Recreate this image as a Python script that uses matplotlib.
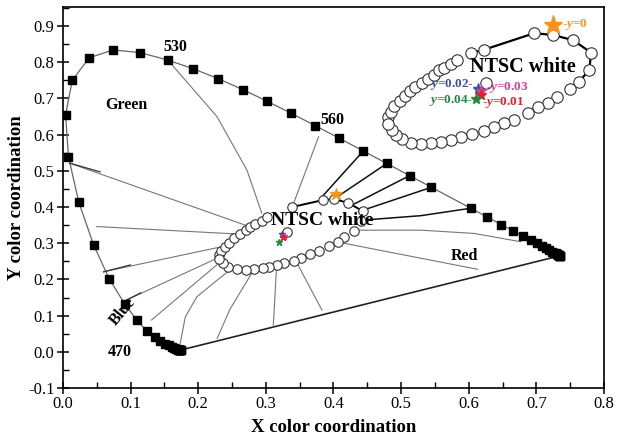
import numpy as np
import matplotlib
matplotlib.use('Agg')
import matplotlib.pyplot as plt
from matplotlib.ticker import MultipleLocator, FormatStrFormatter

plt.rcParams['font.family'] = 'serif'
plt.rcParams['font.serif'] = ['Liberation Serif', 'DejaVu Serif']
plt.rcParams['mathtext.fontset'] = 'custom'
plt.rcParams['mathtext.it'] = 'Liberation Serif:bold:italic'
plt.rcParams['mathtext.rm'] = 'Liberation Serif:bold'

# CIE 1931 spectral locus, 380-700 nm at 5 nm
wl = list(range(380, 705, 5))
locus_x = [0.1741, 0.1740, 0.1738, 0.1736, 0.1733, 0.1730, 0.1726, 0.1721, 0.1714, 0.1703,
           0.1689, 0.1669, 0.1644, 0.1611, 0.1566, 0.1510, 0.1440, 0.1355, 0.1241, 0.1096,
           0.0913, 0.0687, 0.0454, 0.0235, 0.0082, 0.0039, 0.0139, 0.0389, 0.0743, 0.1142,
           0.1547, 0.1929, 0.2296, 0.2658, 0.3016, 0.3373, 0.3731, 0.4087, 0.4441, 0.4788,
           0.5125, 0.5448, 0.5752, 0.6029, 0.6270, 0.6482, 0.6658, 0.6801, 0.6915, 0.7006,
           0.7079, 0.7140, 0.7190, 0.7230, 0.7260, 0.7283, 0.7300, 0.7311, 0.7320, 0.7327,
           0.7334, 0.7340, 0.7344, 0.7346, 0.7347]
locus_y = [0.0050, 0.0050, 0.0049, 0.0049, 0.0048, 0.0048, 0.0048, 0.0048, 0.0051, 0.0058,
           0.0069, 0.0086, 0.0109, 0.0138, 0.0177, 0.0227, 0.0297, 0.0399, 0.0578, 0.0868,
           0.1327, 0.2007, 0.2950, 0.4127, 0.5384, 0.6548, 0.7502, 0.8120, 0.8338, 0.8262,
           0.8059, 0.7816, 0.7543, 0.7243, 0.6923, 0.6589, 0.6245, 0.5896, 0.5547, 0.5202,
           0.4866, 0.4544, 0.4242, 0.3965, 0.3725, 0.3514, 0.3340, 0.3197, 0.3083, 0.2993,
           0.2920, 0.2859, 0.2809, 0.2770, 0.2740, 0.2717, 0.2700, 0.2689, 0.2680, 0.2673,
           0.2666, 0.2660, 0.2656, 0.2654, 0.2653]
no_marker = [590]

# ellipse of circles around NTSC white
ell_x = [0.230, 0.233, 0.239, 0.246, 0.253, 0.262, 0.270, 0.277, 0.284, 0.295, 0.302,
         0.339, 0.384, 0.401, 0.422, 0.443, 0.441, 0.430, 0.415, 0.406, 0.394, 0.379,
         0.365, 0.352, 0.341, 0.327, 0.316, 0.305, 0.296, 0.283, 0.270, 0.258, 0.244,
         0.237, 0.231, 0.332]
ell_y = [0.267, 0.278, 0.290, 0.301, 0.314, 0.325, 0.336, 0.345, 0.353, 0.361, 0.372,
         0.400, 0.419, 0.422, 0.411, 0.389, 0.360, 0.334, 0.317, 0.303, 0.292, 0.278,
         0.270, 0.259, 0.251, 0.245, 0.240, 0.234, 0.232, 0.229, 0.226, 0.229, 0.233,
         0.245, 0.256, 0.332]
ell_top_x = [0.339, 0.384, 0.401, 0.422, 0.443]
ell_top_y = [0.400, 0.419, 0.422, 0.411, 0.389]

# zoomed copy (top right)
ins_x = [0.481, 0.485, 0.490, 0.498, 0.505, 0.513, 0.521, 0.531, 0.540, 0.548, 0.556,
         0.563, 0.573, 0.582, 0.603, 0.622, 0.697, 0.724, 0.754, 0.781, 0.778, 0.763,
         0.749, 0.731, 0.717, 0.702, 0.687, 0.667, 0.652, 0.637, 0.623, 0.605, 0.588,
         0.573, 0.559, 0.544, 0.529, 0.514, 0.502, 0.492, 0.486, 0.481, 0.625]
ins_y = [0.648, 0.663, 0.679, 0.694, 0.707, 0.719, 0.731, 0.742, 0.753, 0.765, 0.777,
         0.785, 0.795, 0.806, 0.825, 0.834, 0.880, 0.875, 0.861, 0.826, 0.778, 0.746,
         0.725, 0.705, 0.688, 0.675, 0.660, 0.640, 0.631, 0.620, 0.611, 0.602, 0.592,
         0.585, 0.579, 0.576, 0.574, 0.578, 0.587, 0.599, 0.613, 0.629, 0.742]
ins_top_x = [0.603, 0.622, 0.697, 0.724, 0.754, 0.781, 0.778, 0.763]
ins_top_y = [0.825, 0.834, 0.880, 0.875, 0.861, 0.826, 0.778, 0.746]

# thin gray lines between locus and ellipse
gray_lines = [
    ([0.010, 0.277], [0.521, 0.345]),
    ([0.050, 0.262], [0.346, 0.325]),
    ([0.060, 0.239], [0.221, 0.292]),
    ([0.094, 0.232], [0.143, 0.262]),
    ([0.131, 0.235], [0.088, 0.252]),
    ([0.173, 0.181, 0.198, 0.228, 0.247], [0.020, 0.097, 0.152, 0.198, 0.226]),
    ([0.228, 0.247, 0.283], [0.037, 0.118, 0.229]),
    ([0.311, 0.316], [0.074, 0.240]),
    ([0.383, 0.345], [0.115, 0.249]),
    ([0.415, 0.613], [0.300, 0.228]),
    ([0.435, 0.529, 0.608, 0.677], [0.336, 0.336, 0.327, 0.304]),
    ([0.378, 0.341], [0.594, 0.410]),
    ([0.155, 0.228, 0.272, 0.294], [0.806, 0.649, 0.502, 0.383]),
]
dark_lines = [
    ([0.4441, 0.381], [0.5547, 0.424]),
    ([0.4788, 0.400], [0.5202, 0.421]),
    ([0.5125, 0.425], [0.4866, 0.403]),
    ([0.5448, 0.437], [0.4544, 0.387]),
    ([0.6029, 0.529, 0.445], [0.3965, 0.376, 0.364]),
]
short_dark = [
    ([0.010, 0.055], [0.521, 0.497]),
    ([0.060, 0.100], [0.221, 0.240]),
    ([0.094, 0.115], [0.143, 0.163]),
]

# coloured stars
star_names = ['y=0', 'y=0.02', 'y=0.03', 'y=0.01', 'y=0.04']
star_colors = ['#f7931e', '#3b4fa6', '#d43f9e', '#e3212b', '#1e8c3c']
star_x = [0.403, 0.324, 0.327, 0.326, 0.320]
star_y = [0.436, 0.325, 0.321, 0.318, 0.304]
star_ins_x = [0.725, 0.613, 0.618, 0.618, 0.610]
star_ins_y = [0.903, 0.725, 0.721, 0.709, 0.697]

fig = plt.figure(figsize=(6.17, 4.43), dpi=100)
ax = fig.add_axes([0.102, 0.124, 0.877, 0.86])

ax.plot([locus_x[0], locus_x[-1]], [locus_y[0], locus_y[-1]], color='#222222', lw=1.2)
ax.plot(locus_x, locus_y, color='#666666', lw=0.9, zorder=2)
mk = [i for i, w in enumerate(wl) if w not in no_marker]
ax.plot([locus_x[i] for i in mk], [locus_y[i] for i in mk], 's', color='black',
        ms=5.8, zorder=3)

for xs, ys in gray_lines:
    ax.plot(xs, ys, color='#777777', lw=0.8, zorder=2)
for xs, ys in dark_lines:
    ax.plot(xs, ys, color='#111111', lw=1.1, zorder=2)
for xs, ys in short_dark:
    ax.plot(xs, ys, color='#333333', lw=0.9, zorder=2)

ax.plot(ell_top_x, ell_top_y, color='black', lw=1.4, zorder=3)
ax.plot(ell_x, ell_y, 'o', mfc='white', mec='#333333', mew=0.8, ms=6.8, zorder=4)
ax.plot(ins_top_x, ins_top_y, color='black', lw=1.6, zorder=3)
ax.plot(ins_x, ins_y, 'o', mfc='white', mec='#333333', mew=0.8, ms=8.2, zorder=4)

for i in range(len(star_names)):
    big = i == 0
    ax.plot(star_x[i], star_y[i], '*', color=star_colors[i], ms=9 if big else 5, zorder=6)
    ax.plot(star_ins_x[i], star_ins_y[i], '*', color=star_colors[i],
            ms=14 if big else 8, zorder=6)

lab_kw = dict(fontsize=9.5, fontweight='bold', va='center', zorder=7)
ax.text(0.738, 0.903, '-$y$=0', color=star_colors[0], ha='left', **lab_kw)
ax.text(0.608, 0.737, '$y$=0.02-', color=star_colors[1], ha='right', **lab_kw)
ax.text(0.625, 0.731, '-$y$=0.03', color=star_colors[2], ha='left', **lab_kw)
ax.text(0.619, 0.689, '-$y$=0.01', color=star_colors[3], ha='left', **lab_kw)
ax.text(0.606, 0.693, '$y$=0.04-', color=star_colors[4], ha='right', **lab_kw)

txt = dict(fontweight='bold', ha='center', va='center', zorder=7)
ax.text(0.384, 0.364, 'NTSC white', fontsize=14, **txt)
ax.text(0.680, 0.787, 'NTSC white', fontsize=14.5, **txt)
ax.text(0.166, 0.843, '530', fontsize=11.5, **txt)
ax.text(0.398, 0.640, '560', fontsize=11.5, **txt)
ax.text(0.084, 0.000, '470', fontsize=11.5, **txt)
ax.text(0.094, 0.682, 'Green', fontsize=11.5, **txt)
ax.text(0.594, 0.265, 'Red', fontsize=11.5, **txt)
ax.text(0.089, 0.111, 'Blue', fontsize=11.5, rotation=50, **txt)

ax.set_xlim(0, 0.8)
ax.set_ylim(-0.1, 0.952)
ax.xaxis.set_major_locator(MultipleLocator(0.1))
ax.xaxis.set_minor_locator(MultipleLocator(0.05))
ax.yaxis.set_major_locator(MultipleLocator(0.1))
ax.yaxis.set_minor_locator(MultipleLocator(0.05))
ax.xaxis.set_major_formatter(FormatStrFormatter('%.1f'))
ax.yaxis.set_major_formatter(FormatStrFormatter('%.1f'))
ax.tick_params(which='major', direction='inout', length=8, width=1.1, labelsize=12, pad=2)
ax.tick_params(which='minor', direction='in', length=4, width=1.0)
for s in ax.spines.values():
    s.set_linewidth(1.2)
ax.set_xlabel('X color coordination', fontsize=13.5, fontweight='bold', labelpad=5)
ax.set_ylabel('Y color coordination', fontsize=13.5, fontweight='bold', labelpad=2)

fig.savefig('out.png', dpi=100)
